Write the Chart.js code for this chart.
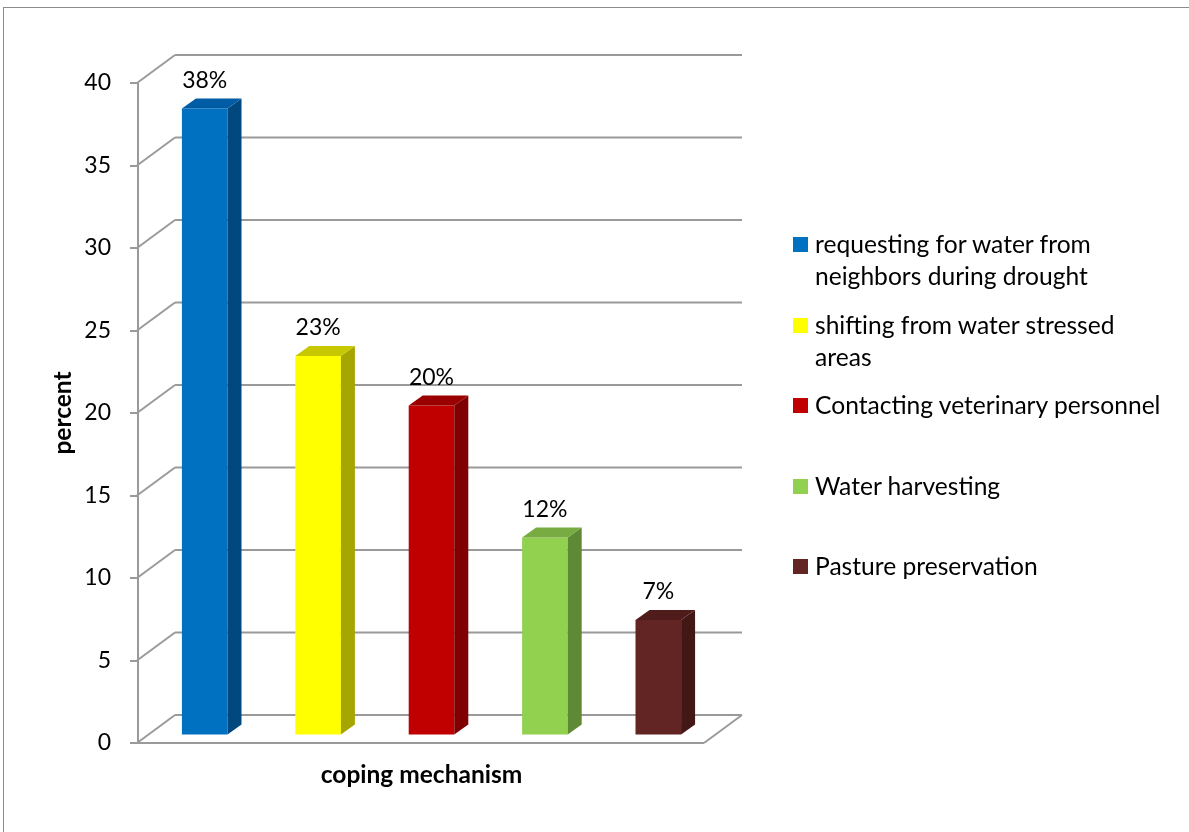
<!DOCTYPE html>
<html>
<head>
<meta charset="utf-8">
<title>coping mechanism</title>
<script src="https://cdn.jsdelivr.net/npm/chart.js@4.4.1/dist/chart.umd.min.js"></script>
<style>
  html, body { margin:0; padding:0; background:#fff; overflow:hidden; }
  #wrap { position:relative; width:1189px; height:832px; overflow:hidden; }
  #frame { position:absolute; left:3px; top:7px; width:1300px; height:900px; border:1.5px solid #8c8c8c; box-sizing:border-box; }
  #chart { position:absolute; left:0; top:0; }
  #legend { position:absolute; left:793px; top:228px; font-family:Lato, 'Open Sans', sans-serif; font-size:24.6px; color:#000; }
  #legend .item { display:flex; align-items:flex-start; height:80.5px; }
  #legend .box { width:15px; height:15px; margin-top:9px; margin-right:7px; flex:none; }
  #legend .txt { line-height:32px; white-space:nowrap; }
</style>
</head>
<body>
<div id="wrap">
  <div id="frame"></div>
  <canvas id="chart" width="1189" height="832"></canvas>
  <div id="legend"></div>
</div>
<script>
// data
const categories = [
  ['requesting for water from', 'neighbors during drought'],
  ['shifting from water stressed', 'areas'],
  'Contacting veterinary personnel',
  'Water harvesting',
  'Pasture preservation'
];
const percents = [38, 23, 20, 12, 7];
const yTicks = { min: 0, max: 40, step: 5 };

// front / side / top colours for each bar
const frontColors = ['#0070C0', '#FFFF00', '#C00000', '#92D050', '#632523'];
const sideColors  = ['#00487E', '#A6A600', '#7E0000', '#5F8A35', '#421816'];
const topColors   = ['#005DA5', '#C8C800', '#9A0000', '#78AC42', '#4F1C1B'];

(function(){
  const $ = (id)=> document.getElementById(id);
  const FONT = 'Lato, "Open Sans", sans-serif';

  // depth of the 3d box and of the bars
  const WALL = { dx: 38, dy: -28 };
  const BAR_SHIFT = { dx: 10, dy: -7.5 };
  const BAR_DEPTH = { dx: 14, dy: -10 };
  const GRID = '#9a9a9a';

  function line(ctx, x1, y1, x2, y2){
    ctx.beginPath(); ctx.moveTo(x1, y1); ctx.lineTo(x2, y2); ctx.stroke();
  }
  function poly(ctx, pts, color){
    ctx.beginPath();
    ctx.moveTo(pts[0][0], pts[0][1]);
    for(let i=1;i<pts.length;i++) ctx.lineTo(pts[i][0], pts[i][1]);
    ctx.closePath();
    ctx.fillStyle = color; ctx.fill();
  }

  const box3d = {
    id: 'box3d',
    beforeDatasetsDraw(chart){
      const {ctx, chartArea: a, scales: {y}} = chart;
      const fl = a.left - 1, fr = a.right - 1;
      ctx.save();
      ctx.strokeStyle = GRID; ctx.lineWidth = 2;
      // back wall lines + left wall diagonals
      y.ticks.forEach(t => {
        const py = y.getPixelForValue(t.value);
        line(ctx, fl, py, fl + WALL.dx, py + WALL.dy);
        line(ctx, fl + WALL.dx, py + WALL.dy, fr + WALL.dx, py + WALL.dy);
      });
      // floor
      const y0 = y.getPixelForValue(0);
      line(ctx, fl, y0, fr, y0);
      line(ctx, fr, y0, fr + WALL.dx, y0 + WALL.dy);
      ctx.restore();
      // bars sit a bit inside the box
      ctx.save();
      ctx.translate(BAR_SHIFT.dx, BAR_SHIFT.dy);
    },
    afterDatasetsDraw(chart){
      const {ctx} = chart;
      const meta = chart.getDatasetMeta(0);
      meta.data.forEach((bar, i) => {
        const {x, y, base, width} = bar.getProps(['x','y','base','width'], true);
        const l = x - width/2, r = x + width/2;
        const dx = BAR_DEPTH.dx, dy = BAR_DEPTH.dy;
        poly(ctx, [[r, y], [r+dx, y+dy], [r+dx, base+dy], [r, base]], sideColors[i]);
        poly(ctx, [[l, y], [l+dx, y+dy], [r+dx, y+dy], [r, y]], topColors[i]);
      });
      ctx.restore();
      // value labels
      ctx.save();
      ctx.font = '23px ' + FONT;
      ctx.fillStyle = '#000';
      ctx.textAlign = 'center';
      ctx.textBaseline = 'middle';
      meta.data.forEach((bar, i) => {
        ctx.fillText(percents[i] + '%', bar.x + BAR_SHIFT.dx, bar.y + BAR_SHIFT.dy - 28);
      });
      ctx.restore();
    }
  };

  function buildLegend(){
    const el = $('legend');
    categories.forEach((c, i) => {
      const item = document.createElement('div'); item.className = 'item';
      const box = document.createElement('span'); box.className = 'box'; box.style.background = frontColors[i];
      const txt = document.createElement('span'); txt.className = 'txt';
      txt.innerHTML = (Array.isArray(c) ? c : [c]).join('<br>');
      item.appendChild(box); item.appendChild(txt);
      el.appendChild(item);
    });
  }

  function render(){
    new Chart($('chart').getContext('2d'), {
      type: 'bar',
      data: {
        labels: categories,
        datasets: [{
          label: 'percent',
          data: percents,
          backgroundColor: frontColors,
          borderWidth: 0,
          categoryPercentage: 1,
          barPercentage: 0.402
        }]
      },
      options: {
        responsive: false,
        animation: false,
        layout: { padding: { left: 0, top: 83, right: 484, bottom: 0 } },
        plugins: { legend: { display: false }, tooltip: { enabled: false } },
        scales: {
          x: {
            grid: { display: false },
            border: { display: false },
            ticks: { display: false },
            title: { display: true, text: 'coping mechanism', color: '#000',
              font: { family: FONT, size: 24.5, weight: 'bold' }, padding: { top: 0, bottom: 42 } },
            afterFit(s){ s.height = 89; }
          },
          y: {
            min: yTicks.min, max: yTicks.max,
            ticks: { stepSize: yTicks.step, color: '#000', padding: 19, font: { family: FONT, size: 23 } },
            grid: { drawOnChartArea: false, drawTicks: true, tickLength: 8, color: GRID, lineWidth: 2 },
            border: { display: true, color: GRID, width: 2 },
            title: { display: true, text: 'percent', color: '#000',
              font: { family: FONT, size: 24.5, weight: 'bold' }, padding: { top: 48, bottom: 0 } },
            afterFit(s){ s.width = 138; }
          }
        }
      },
      plugins: [box3d]
    });
  }

  buildLegend();
  render();
})();
</script>
</body>
</html>
